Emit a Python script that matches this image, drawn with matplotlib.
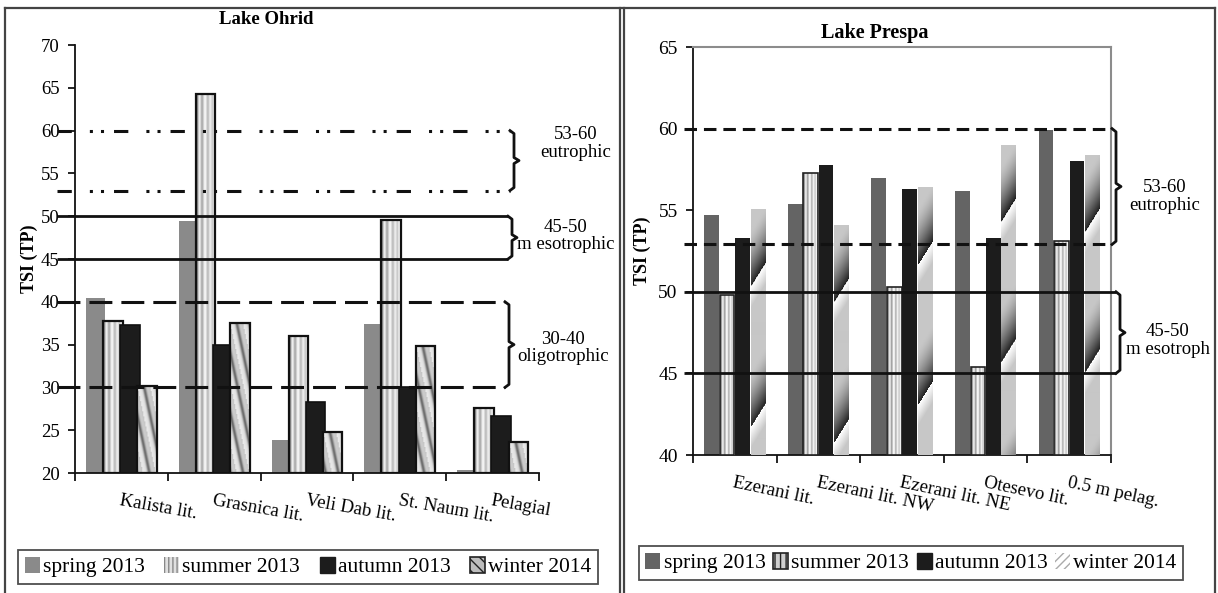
import numpy as np
import matplotlib
matplotlib.use('Agg')
import matplotlib.pyplot as plt
from matplotlib.patches import Patch
from matplotlib.lines import Line2D
import matplotlib.transforms as mtransforms

plt.rcParams['font.family'] = ['Liberation Serif', 'DejaVu Serif']
plt.rcParams['lines.scale_dashes'] = False

# ---------------- data ----------------
seasons = ['spring 2013', 'summer 2013', 'autumn 2013', 'winter 2014']

ohrid_sites = ['Kalista lit.', 'Grasnica lit.', 'Veli Dab lit.', 'St. Naum lit.', 'Pelagial']
ohrid_spring = [40.5, 49.4, 23.9, 37.4, 20.4]
ohrid_summer = [37.7, 64.3, 36.0, 49.6, 27.6]
ohrid_autumn = [37.3, 35.0, 28.3, 30.1, 26.7]
ohrid_winter = [30.2, 37.5, 24.8, 34.8, 23.6]
ohrid_yticks = [20, 25, 30, 35, 40, 45, 50, 55, 60, 65, 70]

prespa_sites = ['Ezerani lit.', 'Ezerani lit. NW', 'Ezerani lit. NE', 'Otesevo lit.', '0.5 m pelag.']
prespa_spring = [54.7, 55.4, 57.0, 56.2, 59.9]
prespa_summer = [49.8, 57.3, 50.3, 45.4, 53.1]
prespa_autumn = [53.3, 57.8, 56.3, 53.3, 58.0]
prespa_winter = [55.1, 54.1, 56.4, 59.0, 58.4]
prespa_yticks = [40, 45, 50, 55, 60, 65]

# trophic bands: (low, high, range label, class label)
ohrid_bands = [(53, 60, '53-60', 'eutrophic'),
               (45, 50, '45-50', 'm esotrophic'),
               (30, 40, '30-40', 'oligotrophic')]
prespa_bands = [(52.9, 60, '53-60', 'eutrophic'),
                (45, 50, '45-50', 'm esotroph')]

# ---------------- figure ----------------
W, H = 1218, 593
fig = plt.figure(figsize=(W / 100, H / 100), dpi=100)


def fx(px):
    return px / W


def fy(py):
    return 1 - py / H


axL = fig.add_axes([fx(75), fy(473), (539 - 75) / W, (473 - 45) / H])
axR = fig.add_axes([fx(693), fy(455), (1111 - 693) / W, (455 - 47) / H])


# ---------------- fill patterns ----------------
def stripes(nx, ny):
    prof = np.array([0.5, 0.55, 0.85, 0.97, 0.78, 0.62, 0.75, 0.95, 1.0, 0.85,
                     0.68, 0.8, 0.95, 0.9, 0.76, 0.86, 0.97, 0.85])
    cols = np.interp(np.linspace(0, len(prof) - 1, nx), np.arange(len(prof)), prof)
    return np.tile(cols, (ny, 1))


def diag_stripes(nx, ny):
    r, c = np.mgrid[0:ny, 0:nx]
    t = (c - 0.2 * r) / 12.0
    f = t - np.floor(t)
    v = 0.92 - 0.45 * np.exp(-((f - 0.5) / 0.13) ** 2) - 0.15 * f
    return v


def sawtooth(nx, ny):
    r, c = np.mgrid[0:ny, 0:nx]
    P = 140.0
    q = r + 1.6 * (c - nx / 2) - 65
    s = np.mod(q, P) / P
    v = 1 - 0.22 * np.clip(s / 0.15, 0, 1) - 0.65 * np.clip((s - 0.6) / 0.4, 0, 1) ** 1.5
    return v


def pattern_fill(ax, bars, fn, zorder):
    for b in bars:
        x0, y0 = b.get_x(), b.get_y()
        x1, y1 = x0 + b.get_width(), y0 + b.get_height()
        p0 = ax.transData.transform((x0, y0))
        p1 = ax.transData.transform((x1, y1))
        nx = max(int(round(abs(p1[0] - p0[0]))), 2)
        ny = max(int(round(abs(p1[1] - p0[1]))), 2)
        arr = fn(nx, ny)
        im = ax.imshow(arr, extent=[x0, x1, y0, y1], aspect='auto', cmap='gray',
                       vmin=0, vmax=1, interpolation='bilinear', zorder=zorder)
        im.set_clip_path(b)


def draw_chart(ax, sites, series, base, top, yticks, step, width, styles, tfs):
    n = len(sites)
    x = np.arange(n)
    ax.set_xlim(-0.5, n - 0.5)
    ax.set_ylim(base, top)
    for k, (vals, st) in enumerate(zip(series, styles)):
        off = (k - 1.5) * step
        h = np.array(vals) - base
        z = 2 + k
        bars = ax.bar(x + off, h, width, bottom=base, color=st.get('fc', 'none'),
                      edgecolor=st.get('ec', 'none'), linewidth=st.get('lw', 0),
                      zorder=z + 0.5)
        if 'fn' in st:
            ax.bar(x + off, h, width, bottom=base, color='white', linewidth=0, zorder=z)
            pattern_fill(ax, bars, st['fn'], z + 0.2)
    ax.set_xlim(-0.5, n - 0.5)
    ax.set_ylim(base, top)
    ax.set_yticks(yticks)
    ax.set_yticklabels([str(t) for t in yticks], fontsize=tfs)
    ax.set_xticks(x)
    ax.set_xticks(np.arange(n + 1) - 0.5, minor=True)
    ax.tick_params(axis='x', which='major', length=0, pad=14)
    ax.tick_params(axis='x', which='minor', length=6, width=1.2, direction='out')
    ax.tick_params(axis='y', which='major', length=5, width=1.2, direction='out', pad=6)
    for s in ('left', 'bottom'):
        ax.spines[s].set_linewidth(1.3)
        ax.spines[s].set_color('#111111')


left_styles = [
    {'fc': '#8a8a8a'},
    {'fn': stripes, 'ec': '#111111', 'lw': 1.6},
    {'fc': '#1c1c1c', 'ec': '#111111', 'lw': 1.2},
    {'fn': diag_stripes, 'ec': '#111111', 'lw': 1.6},
]
right_styles = [
    {'fc': '#646464'},
    {'fn': stripes, 'ec': '#222222', 'lw': 1.2},
    {'fc': '#1c1c1c'},
    {'fn': sawtooth},
]

draw_chart(axL, ohrid_sites, [ohrid_spring, ohrid_summer, ohrid_autumn, ohrid_winter],
           20, 70, ohrid_yticks, 0.185, 0.21, left_styles, 13.5)
draw_chart(axR, prespa_sites, [prespa_spring, prespa_summer, prespa_autumn, prespa_winter],
           40, 65, prespa_yticks, 0.185, 0.175, right_styles, 14)

axL.spines['top'].set_visible(False)
axL.spines['right'].set_visible(False)
for s in ('top', 'right'):
    axR.spines[s].set_color('#8c8c8c')
    axR.spines[s].set_linewidth(1.5)

axL.set_xticklabels(ohrid_sites, rotation=-10, ha='left', rotation_mode='anchor', fontsize=13.5)
axR.set_xticklabels(prespa_sites, rotation=-12, ha='left', rotation_mode='anchor', fontsize=13.5)

axL.set_ylabel('TSI (TP)', fontsize=13, fontweight='bold', labelpad=2)
axR.set_ylabel('TSI (TP)', fontsize=13, fontweight='bold', labelpad=5)

fig.text(fx(266), fy(20), 'Lake Ohrid', ha='center', va='center', fontsize=13.5, fontweight='bold')
fig.text(fx(875), fy(33), 'Lake Prespa', ha='center', va='center', fontsize=14.5, fontweight='bold')

# ---------------- threshold lines with braces ----------------
dashdotdot = (0, (10.3, 13, 2.2, 5.8, 2.2, 7.2))
dash_long = (0, (16.5, 6.5))
dash_short = (0, (9, 5))


def band(ax, lo, hi, xs, xe, ls, lw, dx, dtip, dy, label, tx, toff, fs):
    tr = mtransforms.blended_transform_factory(ax.transAxes, ax.transData)
    for y in (lo, hi):
        ax.plot([xs, xe], [y, y], transform=tr, color='#111111', lw=lw, ls=ls,
                clip_on=False, zorder=8, solid_capstyle='butt')
    ym = (lo + hi) / 2
    bx = [xe, xe + dx, xe + dx, xe + dx + dtip, xe + dx, xe + dx, xe]
    by = [hi, hi - dy, ym + dy, ym, ym - dy, lo + dy, lo]
    ax.plot(bx, by, transform=tr, color='#111111', lw=2.0, clip_on=False, zorder=8,
            solid_joinstyle='round')
    ax.text(tx, ym + toff, label, transform=tr, ha='center', va='center',
            fontsize=fs, linespacing=1.05, clip_on=False)


def ax_frac_L(px):
    return (px - 75) / 464.0


def ax_frac_R(px):
    return (px - 693) / 418.0


lo, hi, r, c = ohrid_bands[0]
band(axL, lo, hi, ax_frac_L(57), ax_frac_L(510), dashdotdot, 2.2, 4 / 464, 5 / 464, 0.35,
     r + '\n' + c, ax_frac_L(576), 2.0, 13.5)
lo, hi, r, c = ohrid_bands[1]
band(axL, lo, hi, ax_frac_L(57), ax_frac_L(508), '-', 2.0, 4 / 464, 5 / 464, 0.35,
     r + '\n' + c, ax_frac_L(566), 0.2, 13.5)
lo, hi, r, c = ohrid_bands[2]
band(axL, lo, hi, ax_frac_L(57), ax_frac_L(505), dash_long, 2.2, 4 / 464, 5 / 464, 0.35,
     r + '\n' + c, ax_frac_L(563), -0.4, 13.5)

lo, hi, r, c = prespa_bands[0]
band(axR, lo, hi, ax_frac_R(684), ax_frac_R(1112), dash_short, 2.2, 4 / 418, 5 / 418, 0.2,
     r + '\n' + c, ax_frac_R(1165), -0.6, 13.5)
lo, hi, r, c = prespa_bands[1]
band(axR, lo, hi, ax_frac_R(684), ax_frac_R(1116), '-', 2.0, 4 / 418, 5 / 418, 0.2,
     r + '\n' + c, ax_frac_R(1168), -0.5, 13.5)

# ---------------- legends ----------------
left_handles = [
    Patch(facecolor='#8a8a8a', edgecolor='none'),
    Patch(facecolor='#e0e0e0', edgecolor='#888888', hatch='||||', linewidth=0),
    Patch(facecolor='#1c1c1c', edgecolor='#1c1c1c'),
    Patch(facecolor='#bdbdbd', edgecolor='#222222', hatch='\\\\\\', linewidth=1.2),
]
right_handles = [
    Patch(facecolor='#646464', edgecolor='none'),
    Patch(facecolor='#cfcfcf', edgecolor='#222222', hatch='|||', linewidth=1.2),
    Patch(facecolor='#1c1c1c', edgecolor='#1c1c1c'),
    Patch(facecolor='white', edgecolor='#aaaaaa', hatch='////', linewidth=0),
]


def make_legend(handles, cx, cy, colsp):
    leg = fig.legend(handles, seasons, loc='center', bbox_to_anchor=(fx(cx), fy(cy)),
                     ncol=4, frameon=True, fancybox=False, edgecolor='#222222',
                     fontsize=15.5, handlelength=0.7, handleheight=0.8,
                     handletextpad=0.15, columnspacing=colsp, borderpad=0.3,
                     borderaxespad=0)
    leg.get_frame().set_linewidth(1.3)
    return leg


make_legend(left_handles, 308, 567, 0.9)
make_legend(right_handles, 911, 563, 0.35)

# ---------------- panel borders ----------------
border_kw = dict(color='#444444', lw=1.6, transform=fig.transFigure)
fig.add_artist(Line2D([fx(5), fx(1215)], [fy(8), fy(8)], **border_kw))
fig.add_artist(Line2D([fx(5), fx(5)], [fy(8), fy(593)], **border_kw))
fig.add_artist(Line2D([fx(620), fx(620)], [fy(8), fy(593)], **border_kw))
fig.add_artist(Line2D([fx(624), fx(624)], [fy(8), fy(593)], **border_kw))
fig.add_artist(Line2D([fx(1215), fx(1215)], [fy(8), fy(593)], **border_kw))

fig.savefig('out.png', dpi=100)
